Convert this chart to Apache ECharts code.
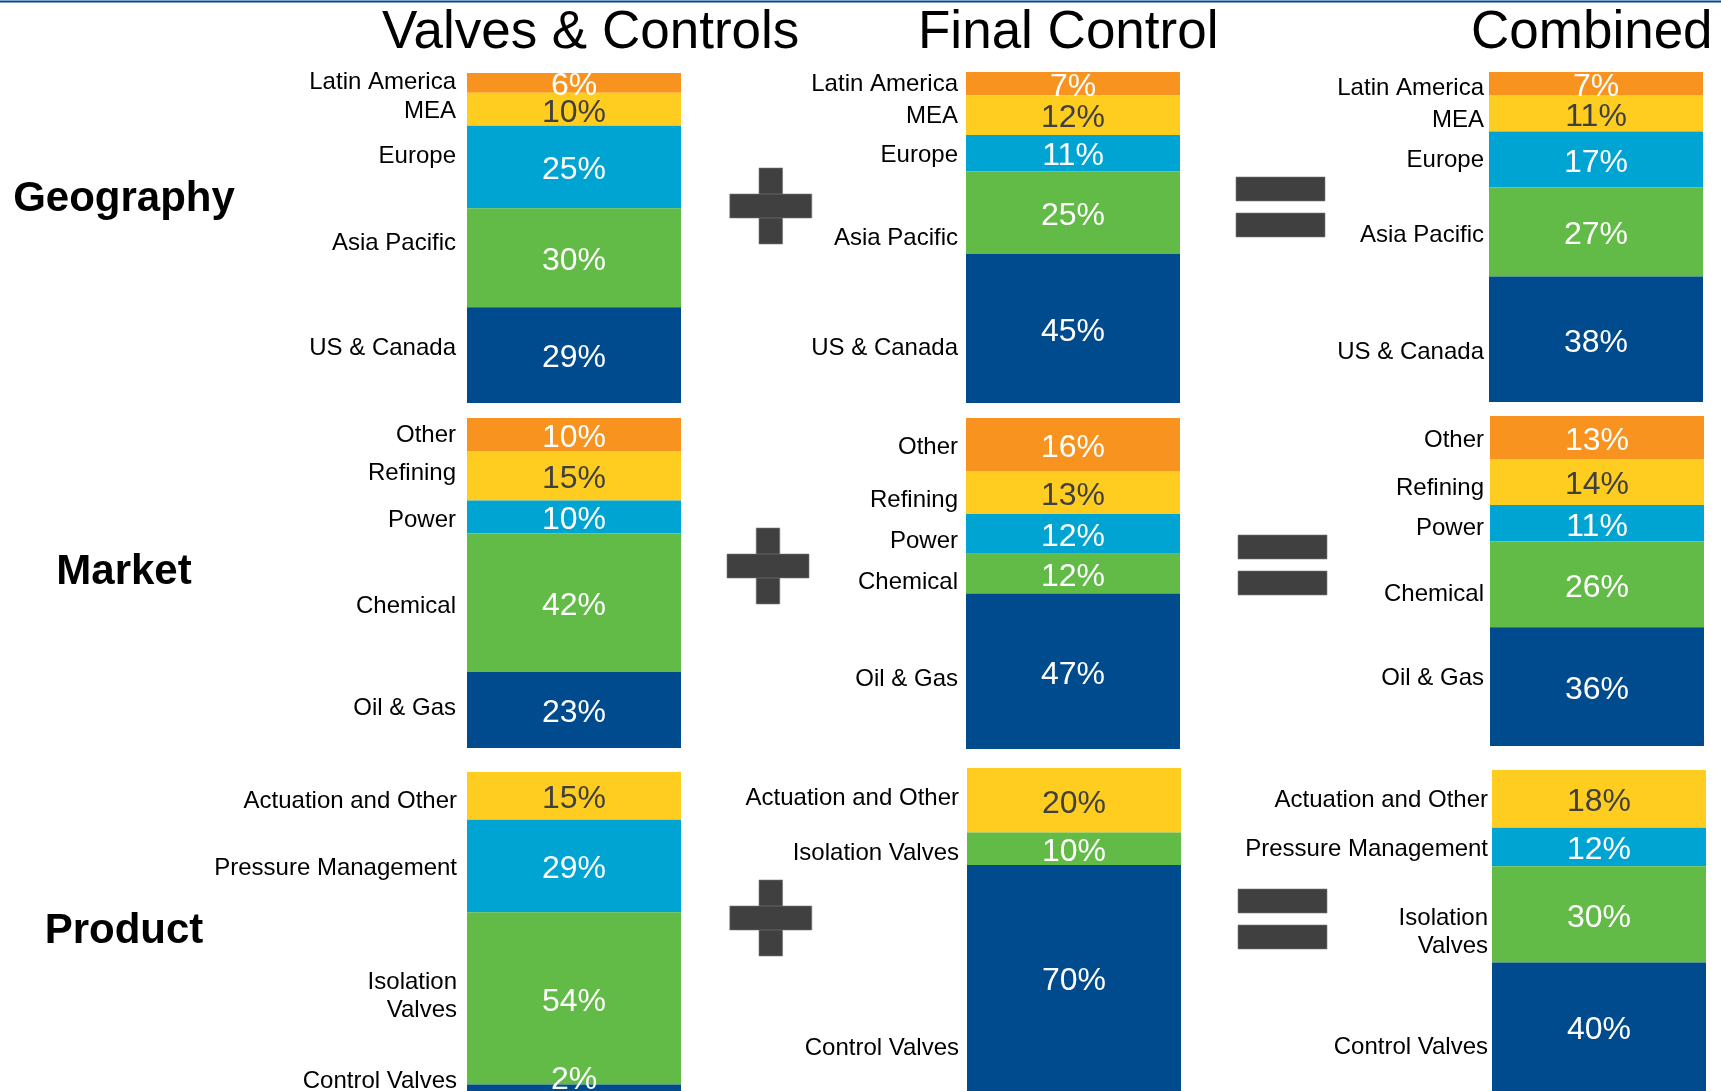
<!DOCTYPE html>
<html>
<head>
<meta charset="utf-8">
<title>Valves & Controls + Final Control = Combined</title>
<script src="https://cdn.jsdelivr.net/npm/echarts@6/dist/echarts.min.js"></script>
<style>
  html, body { margin: 0; padding: 0; background: #fff; }
  #chart { width: 1721px; height: 1091px; }
</style>
</head>
<body>
<div id="chart"></div>
<script>
// ---- data ----
const columnTitles = ['Valves & Controls', 'Final Control', 'Combined'];
const rowTitles = ['Geography', 'Market', 'Product'];

const geoNames = ['Latin America', 'MEA', 'Europe', 'Asia Pacific', 'US & Canada'];
const geoValves = [6, 10, 25, 30, 29];
const geoFinal = [7, 12, 11, 25, 45];
const geoCombined = [7, 11, 17, 27, 38];

const marketNames = ['Other', 'Refining', 'Power', 'Chemical', 'Oil & Gas'];
const marketValves = [10, 15, 10, 42, 23];
const marketFinal = [16, 13, 12, 12, 47];
const marketCombined = [13, 14, 11, 26, 36];

const productNamesValves = ['Actuation and Other', 'Pressure Management', 'Isolation\nValves', 'Control Valves'];
const productValves = [15, 29, 54, 2];
const productNamesFinal = ['Actuation and Other', 'Isolation Valves', 'Control Valves'];
const productFinal = [20, 10, 70];
const productNamesCombined = ['Actuation and Other', 'Pressure Management', 'Isolation\nValves', 'Control Valves'];
const productCombined = [18, 12, 30, 40];

// ---- styling ----
const ORANGE = '#F7931E', YELLOW = '#FFCD1F', CYAN = '#00A4D3', GREEN = '#62BB46', NAVY = '#004B8D';
const DARK = '#404040';
const FONT = '"Liberation Sans", Arial, Helvetica, sans-serif';
const PCT_DY = 3.5, NAME_DY = 2.5;

const colorOf = {
  'Latin America': ORANGE, 'Other': ORANGE,
  'MEA': YELLOW, 'Refining': YELLOW, 'Actuation and Other': YELLOW,
  'Europe': CYAN, 'Power': CYAN, 'Pressure Management': CYAN,
  'Asia Pacific': GREEN, 'Chemical': GREEN, 'Isolation Valves': GREEN,
  'US & Canada': NAVY, 'Oil & Gas': NAVY, 'Control Valves': NAVY
};

// panel placement (px) and label nudges
const panels = [
  { names: geoNames, values: geoValves, left: 467, top: 73, height: 330, dist: 11, nameShift: [-3, 0, -13, -17, -9] },
  { names: geoNames, values: geoFinal, left: 966, top: 72, height: 331, dist: 8, nameShift: [-2, -1, 0, 23, 17] },
  { names: geoNames, values: geoCombined, left: 1489, top: 72, height: 330, dist: 5, nameShift: [2, 5, -2, 1, 11] },
  { names: marketNames, values: marketValves, left: 467, top: 418, height: 330, dist: 11, nameShift: [-2, -5, 1, 1, -4] },
  { names: marketNames, values: marketFinal, left: 966, top: 418, height: 331, dist: 8, nameShift: [0, 5, 5, 6, 6] },
  { names: marketNames, values: marketCombined, left: 1490, top: 416, height: 330, dist: 6, nameShift: [0, 4, 3, 8, -11] },
  { names: productNamesValves, values: productValves, left: 467, top: 772, height: 324, dist: 10, nameShift: [3, 0, -5, -9], pctShift: [0, 0, 0, -11] },
  { names: productNamesFinal, values: productFinal, left: 967, top: 768, height: 327, dist: 8, nameShift: [-4, 2, 68] },
  { names: productNamesCombined, values: productCombined, left: 1492, top: 770, height: 323, dist: 4, nameShift: [-1, 0, 15, 18] }
];
const BAR_W = 214;

const grids = [], xAxes = [], yAxes = [], series = [];

panels.forEach((p, pi) => {
  grids.push({ left: p.left, top: p.top, width: BAR_W, height: p.height, containLabel: false });
  xAxes.push({ type: 'category', gridIndex: pi, data: [''], show: false });
  yAxes.push({ type: 'value', gridIndex: pi, min: 0, max: 100, inverse: true, show: false });

  p.values.forEach((v, i) => {
    const name = p.names[i];
    const color = colorOf[name.replace('\n', ' ')];
    const pctShift = p.pctShift ? p.pctShift[i] : 0;
    // coloured segment with percentage
    series.push({
      type: 'bar', xAxisIndex: pi, yAxisIndex: pi, stack: 'v' + pi,
      barWidth: '100%', barGap: '-100%', silent: true,
      data: [v],
      itemStyle: { color: color },
      label: {
        show: true, position: 'inside', formatter: '{c}%',
        fontFamily: FONT, fontSize: 32,
        color: color === YELLOW ? DARK : '#fff',
        offset: [0, pctShift + PCT_DY]
      }
    });
    // invisible twin carrying the category name on the left
    series.push({
      type: 'bar', xAxisIndex: pi, yAxisIndex: pi, stack: 'n' + pi,
      barWidth: '100%', barGap: '-100%', silent: true,
      data: [v],
      itemStyle: { color: 'rgba(0,0,0,0)' },
      label: {
        show: true, position: 'left', distance: p.dist,
        formatter: name, fontFamily: FONT, fontSize: 24, lineHeight: 28,
        color: '#000', align: 'right',
        offset: [0, p.nameShift[i] + NAME_DY]
      }
    });
  });
});

// plus / equals signs and headings
function rect(x, y, w, h, fill) {
  return { type: 'rect', shape: { x: x, y: y, width: w, height: h }, style: { fill: fill, stroke: '#7a7a7a', lineWidth: 0.6 }, silent: true };
}
function plus(cx, top, hTop) {
  return [rect(cx - 11.8, top, 23.6, 76, DARK), rect(cx - 41, hTop, 82, 24, DARK)];
}
function equals(x, y1, y2) {
  return [rect(x, y1, 89, 24, DARK), rect(x, y2, 89, 24, DARK)];
}

const graphics = [
  { type: 'rect', shape: { x: 0, y: 0.5, width: 1721, height: 2 }, style: { fill: NAVY }, silent: true },
  ...plus(770.8, 168, 194), ...plus(768, 528, 554),
  ...plus(770.8, 880, 906),
  ...equals(1236, 177, 213), ...equals(1238, 535, 571), ...equals(1238, 889, 925)
];
const titleX = [382, 918, 1471];
columnTitles.forEach((t, i) => {
  graphics.push({ type: 'text', silent: true, style: { text: t, x: titleX[i], y: 33, fill: '#000', font: '53px ' + FONT, textAlign: 'left', textVerticalAlign: 'middle' } });
});
const rowY = [199, 572, 931];
rowTitles.forEach((t, i) => {
  graphics.push({ type: 'text', silent: true, style: { text: t, x: 124, y: rowY[i], fill: '#000', font: 'bold 42px ' + FONT, textAlign: 'center', textVerticalAlign: 'middle' } });
});

const chart = echarts.init(document.getElementById('chart'));
chart.setOption({
  animation: false,
  backgroundColor: '#fff',
  grid: grids,
  xAxis: xAxes,
  yAxis: yAxes,
  series: series,
  graphic: graphics
});
</script>
</body>
</html>
